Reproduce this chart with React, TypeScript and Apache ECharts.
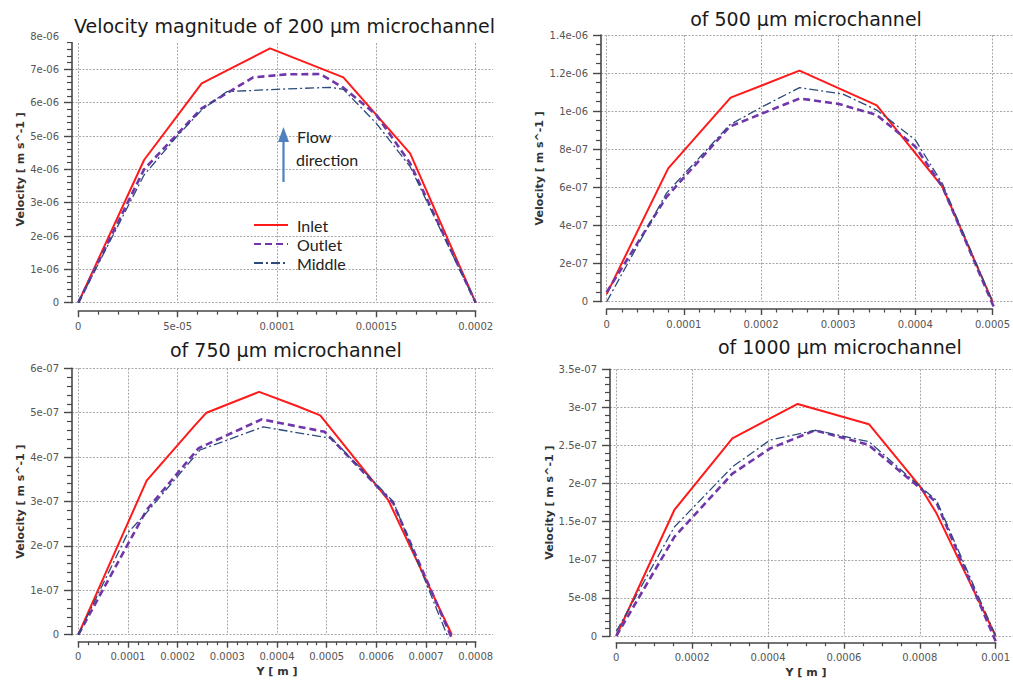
import React, { useEffect, useRef } from "react";
import * as echarts from "echarts";

// ---------- data (Y position [m], velocity [m/s]) ----------
const titles = [
  "Velocity magnitude of 200 µm microchannel",
  "of 500 µm microchannel",
  "of 750 µm microchannel",
  "of 1000 µm microchannel",
];
const seriesNames = ["Inlet", "Outlet", "Middle"];

const ch200Inlet = [[0, 0], [3.31e-5, 4.28e-6], [6.21e-5, 6.58e-6], [9.65e-5, 7.63e-6], [1.334e-4, 6.76e-6], [1.67e-4, 4.48e-6], [2.0e-4, 0]];
const ch200Outlet = [[0, 0], [3.31e-5, 4.0e-6], [6.21e-5, 5.83e-6], [8.8e-5, 6.76e-6], [1.05e-4, 6.85e-6], [1.217e-4, 6.86e-6], [1.334e-4, 6.45e-6], [1.5e-4, 5.63e-6], [1.67e-4, 4.18e-6], [2.0e-4, 0]];
const ch200Middle = [[0, 0], [3.31e-5, 3.83e-6], [4.95e-5, 4.98e-6], [6.21e-5, 5.78e-6], [7.47e-5, 6.33e-6], [9.98e-5, 6.4e-6], [1.267e-4, 6.46e-6], [1.334e-4, 6.4e-6], [1.5e-4, 5.38e-6], [1.67e-4, 4.08e-6], [2.0e-4, 0]];

const ch500Inlet = [[0, 4e-8], [7.97e-5, 7.0e-7], [1.606e-4, 1.071e-6], [2.498e-4, 1.213e-6], [3.5e-4, 1.031e-6], [4.35e-4, 6.04e-7], [5.0e-4, 0]];
const ch500Outlet = [[0, 5e-8], [7.75e-5, 5.5e-7], [1.593e-4, 9.19e-7], [2.5e-4, 1.067e-6], [3.01e-4, 1.038e-6], [3.5e-4, 9.8e-7], [4.0e-4, 8.14e-7], [4.35e-4, 6.04e-7], [5.03e-4, -4e-8]];
const ch500Middle = [[0, 0], [7.75e-5, 5.7e-7], [1.593e-4, 9.28e-7], [2.02e-4, 1.024e-6], [2.5e-4, 1.124e-6], [3.06e-4, 1.09e-6], [3.5e-4, 1.006e-6], [4.0e-4, 8.49e-7], [4.35e-4, 6.2e-7], [5.0e-4, 0]];

const ch750Inlet = [[0, 0], [1.376e-4, 3.47e-7], [2.32e-4, 4.68e-7], [2.58e-4, 5.0e-7], [3.64e-4, 5.47e-7], [4.4e-4, 5.15e-7], [4.87e-4, 4.94e-7], [6.24e-4, 3.03e-7], [7.52e-4, 0]];
const ch750Outlet = [[0, 0], [1.376e-4, 2.81e-7], [2.42e-4, 4.2e-7], [3.69e-4, 4.85e-7], [4.96e-4, 4.57e-7], [6.34e-4, 2.96e-7], [7.52e-4, -8e-9]];
const ch750Middle = [[0, 0], [1.0e-4, 2.3e-7], [1.376e-4, 2.75e-7], [2.45e-4, 4.16e-7], [3.72e-4, 4.68e-7], [5.1e-4, 4.42e-7], [6.34e-4, 3.0e-7], [7.45e-4, -8e-9]];

const ch1000Inlet = [[0, 0], [1.53e-4, 1.654e-7], [3.06e-4, 2.594e-7], [4.78e-4, 3.045e-7], [6.66e-4, 2.78e-7], [8.01e-4, 1.96e-7], [8.44e-4, 1.61e-7], [1.0e-3, 0]];
const ch1000Outlet = [[0, 0], [1.53e-4, 1.3e-7], [3.06e-4, 2.13e-7], [4.05e-4, 2.46e-7], [5.24e-4, 2.7e-7], [6.64e-4, 2.51e-7], [8.01e-4, 1.94e-7], [8.44e-4, 1.75e-7], [1.0e-3, -7e-9]];
const ch1000Middle = [[0, 6e-9], [1.53e-4, 1.43e-7], [3.06e-4, 2.22e-7], [4.05e-4, 2.57e-7], [5.24e-4, 2.7e-7], [6.66e-4, 2.55e-7], [8.01e-4, 1.96e-7], [8.44e-4, 1.78e-7], [1.0e-3, 0]];

// axis ranges
const xMaxes = [2e-4, 5e-4, 8e-4, 1e-3];
const xIntervals = [5e-5, 1e-4, 1e-4, 2e-4];
const xMinorSplits = [5, 5, 5, 4];
const yMaxes = [8e-6, 1.4e-6, 6e-7, 3.5e-7];
const yIntervals = [1e-6, 2e-7, 1e-7, 5e-8];
const yMinorSplits = [5, 4, 5, 5];

const yAxisTitle = "Velocity [ m s^-1 ]";
const xAxisTitle = "Y [ m ]";

// ---------- layout ----------
const layouts = [
  { left: 78.3, top: 36, width: 397.4, height: 266.7, axisLeft: 72, wideWidth: 421, xOffset: 8.5, titleX: 270.5, titleTop: 10, titleBox: true, yNameGap: 46, xName: false },
  { left: 606.7, top: 35, width: 387, height: 266.7, axisLeft: 601, wideWidth: 430, xOffset: 7.3, titleX: 806, titleTop: 9, titleBox: false, yNameGap: 56, xName: false },
  { left: 78.3, top: 368.3, width: 397.4, height: 266.4, axisLeft: 72, wideWidth: 421, xOffset: 7, titleX: 285.8, titleTop: 340, titleBox: false, yNameGap: 46, xName: true },
  { left: 616.3, top: 369.3, width: 387.4, height: 266.7, axisLeft: 610, wideWidth: 430, xOffset: 6.7, titleX: 839.8, titleTop: 337, titleBox: false, yNameGap: 55.5, xName: true },
];

const colors = { inlet: "#ff1a1a", outlet: "#7036aa", middle: "#2c4a7c" };
const axisColor = "#474747";
const gridColor = "#a8a8a8";
const labelFont = "DejaVu Sans";

function fmt(v: number): string {
  if (v === 0) return "0";
  const r = Number(v.toPrecision(6));
  const e = Math.floor(Math.log10(Math.abs(r)) + 1e-9);
  if (e < -4) {
    return r.toExponential().replace(/e([+-])(\d)$/, "e$10$2");
  }
  return String(r);
}

function buildOption() {
  const allData = [
    [ch200Inlet, ch200Outlet, ch200Middle],
    [ch500Inlet, ch500Outlet, ch500Middle],
    [ch750Inlet, ch750Outlet, ch750Middle],
    [ch1000Inlet, ch1000Outlet, ch1000Middle],
  ];
  const grid: any[] = [];
  const xAxis: any[] = [];
  const yAxis: any[] = [];
  const series: any[] = [];
  const title: any[] = [];

  layouts.forEach((L, i) => {
    const gA = grid.length;
    grid.push({ left: L.left, top: L.top, width: L.width, height: L.height, containLabel: false });
    const gB = grid.length;
    grid.push({ left: L.axisLeft, top: L.top, width: L.wideWidth, height: L.height, containLabel: false });

    const xA = xAxis.length;
    xAxis.push({
      type: "value",
      gridIndex: gA,
      min: 0,
      max: xMaxes[i],
      interval: xIntervals[i],
      offset: L.xOffset,
      name: L.xName ? xAxisTitle : "",
      nameLocation: "middle",
      nameGap: 24,
      nameTextStyle: { fontFamily: labelFont, fontWeight: "bold", fontSize: 11, color: "#333" },
      axisLine: { show: true, onZero: false, lineStyle: { color: axisColor, width: 1.6 } },
      axisTick: { show: true, length: 6, lineStyle: { color: axisColor, width: 1.4 } },
      minorTick: { show: true, splitNumber: xMinorSplits[i], length: 3.5, lineStyle: { color: axisColor, width: 1.2 } },
      axisLabel: { formatter: fmt, fontFamily: labelFont, fontSize: 10, color: "#555", margin: 10, showMinLabel: true, showMaxLabel: true },
      splitLine: { show: true, lineStyle: { color: gridColor, type: [2, 1.5], width: 1 } },
      minorSplitLine: { show: false },
    });
    const yA = yAxis.length;
    yAxis.push({
      type: "value",
      gridIndex: gA,
      min: 0,
      max: yMaxes[i],
      interval: yIntervals[i],
      show: false,
      splitLine: { show: false },
    });
    xAxis.push({ type: "value", gridIndex: gB, min: 0, max: 1, show: false, splitLine: { show: false } });
    yAxis.push({
      type: "value",
      gridIndex: gB,
      min: 0,
      max: yMaxes[i],
      interval: yIntervals[i],
      name: yAxisTitle,
      nameLocation: "middle",
      nameGap: L.yNameGap,
      nameTextStyle: { fontFamily: labelFont, fontWeight: "bold", fontSize: 11, color: "#333" },
      axisLine: { show: true, onZero: false, lineStyle: { color: axisColor, width: 1.6 } },
      axisTick: { show: true, length: 8, lineStyle: { color: axisColor, width: 1.4 } },
      minorTick: { show: true, splitNumber: yMinorSplits[i], length: 5, lineStyle: { color: axisColor, width: 1.2 } },
      axisLabel: { formatter: fmt, fontFamily: labelFont, fontSize: 10, color: "#555", margin: 13 },
      splitLine: { show: true, lineStyle: { color: gridColor, type: [2, 1.5], width: 1 } },
    });

    const [inl, out, mid] = allData[i];
    series.push({
      type: "line", name: seriesNames[0], xAxisIndex: xA, yAxisIndex: yA, data: inl,
      symbol: "none", clip: false, lineStyle: { color: colors.inlet, width: 2 }, itemStyle: { color: colors.inlet },
    });
    series.push({
      type: "line", name: seriesNames[1], xAxisIndex: xA, yAxisIndex: yA, data: out,
      symbol: "none", clip: false, lineStyle: { color: colors.outlet, width: 2.6, type: [7, 4] }, itemStyle: { color: colors.outlet },
    });
    series.push({
      type: "line", name: seriesNames[2], xAxisIndex: xA, yAxisIndex: yA, data: mid,
      symbol: "none", clip: false, lineStyle: { color: colors.middle, width: 1.3, type: [9, 3, 2, 3] }, itemStyle: { color: colors.middle },
    });

    title.push({
      text: titles[i],
      left: L.titleX,
      top: L.titleTop,
      textAlign: "center",
      backgroundColor: L.titleBox ? "#ffffff" : "transparent",
      padding: L.titleBox ? [6, 8, 6, 14] : 0,
      textStyle: { fontFamily: labelFont, fontWeight: "normal", fontSize: 19, color: "#1a1a1a", lineHeight: 20 },
    });
  });

  return {
    animation: false,
    backgroundColor: "#ffffff",
    title,
    grid,
    xAxis,
    yAxis,
    series,
    legend: {
      data: seriesNames,
      orient: "vertical",
      left: 248,
      top: 212,
      itemWidth: 34,
      itemHeight: 14,
      itemGap: 3,
      itemStyle: { opacity: 0 },
      textStyle: { fontFamily: "Lato", fontSize: 16, color: "#222", padding: [10, 0, 0, 4] },
    },
    graphic: [
      { type: "line", shape: { x1: 283.5, y1: 182, x2: 283.5, y2: 138 }, style: { stroke: "#4f7fbd", lineWidth: 2.2 }, z: 10 },
      { type: "polygon", shape: { points: [[283.5, 127], [278, 142], [289, 142]] }, style: { fill: "#4f7fbd" }, z: 10 },
      { type: "text", left: 297, top: 128, style: { text: "Flow", font: "16px Lato", fill: "#222" }, z: 10 },
      { type: "text", left: 296, top: 151, style: { text: "direction", font: "16px Lato", fill: "#222" }, z: 10 },
    ],
  };
}

export default function App() {
  const ref = useRef<HTMLDivElement>(null);
  useEffect(() => {
    if (!ref.current) return;
    const chart = echarts.init(ref.current, undefined, { renderer: "svg" });
    chart.setOption(buildOption() as any);
    return () => chart.dispose();
  }, []);
  return (
    <div
      ref={ref}
      style={{ position: "fixed", left: 0, top: 0, width: 1013, height: 682, background: "#fff" }}
    />
  );
}
